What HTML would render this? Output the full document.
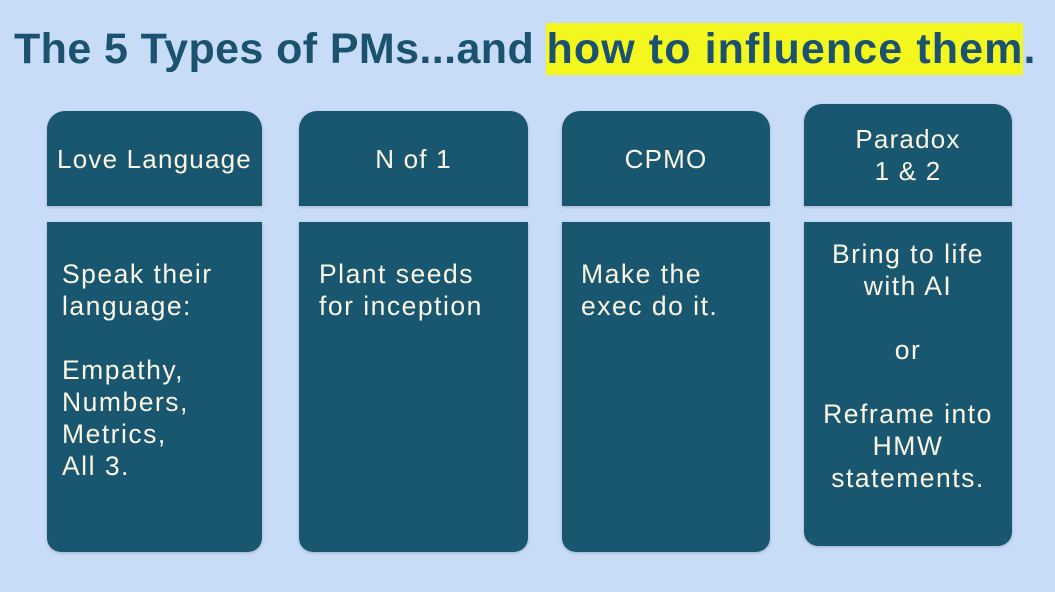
<!DOCTYPE html>
<html><head><meta charset="utf-8"><style>
body{margin:0;width:1055px;height:592px;background:#c9dcf7;font-family:"Liberation Sans",sans-serif;position:relative;overflow:hidden}
.t{position:absolute;left:14px;top:25px;font-size:43px;font-weight:bold;color:#1b5270;white-space:nowrap;letter-spacing:0.4px}
.hl{background:#f4f71e;padding:2px 0;letter-spacing:1.1px}
.h,.b{position:absolute;background:#195770;color:#fbf5e4;box-shadow:0 1px 3px rgba(0,0,0,.2)}
.h{border-radius:18px 18px 0 0;display:flex;align-items:center;justify-content:center;text-align:center;font-size:26px;line-height:32px;letter-spacing:1.2px;white-space:nowrap}
.b{border-radius:0 0 14px 14px;font-size:26.5px;line-height:32px;letter-spacing:1.5px;box-sizing:border-box;padding:36px 0 0 15px;white-space:nowrap}
</style></head><body>
<div class="t">The 5 Types of PMs...and <span class="hl">how to influence them</span>.</div>
<div class="h" style="left:47px;top:111px;width:215px;height:95px">Love Language</div>
<div class="b" style="left:47px;top:222px;width:215px;height:330px">Speak their<br>language:<br><br>Empathy,<br>Numbers,<br>Metrics,<br>All 3.</div>
<div class="h" style="left:299px;top:111px;width:229px;height:95px">N of 1</div>
<div class="b" style="left:299px;top:222px;width:229px;height:330px;padding-left:20px">Plant seeds<br>for inception</div>
<div class="h" style="left:562px;top:111px;width:208px;height:95px">CPMO</div>
<div class="b" style="left:562px;top:222px;width:208px;height:330px;padding-left:19px">Make the<br>exec do it.</div>
<div class="h" style="left:804px;top:104px;width:208px;height:102px">Paradox<br>1 &amp; 2</div>
<div class="b" style="left:804px;top:222px;width:208px;height:324px;padding:16px 0 0;text-align:center">Bring to life<br>with AI<br><br>or<br><br>Reframe into<br>HMW<br>statements.</div>
</body></html>
